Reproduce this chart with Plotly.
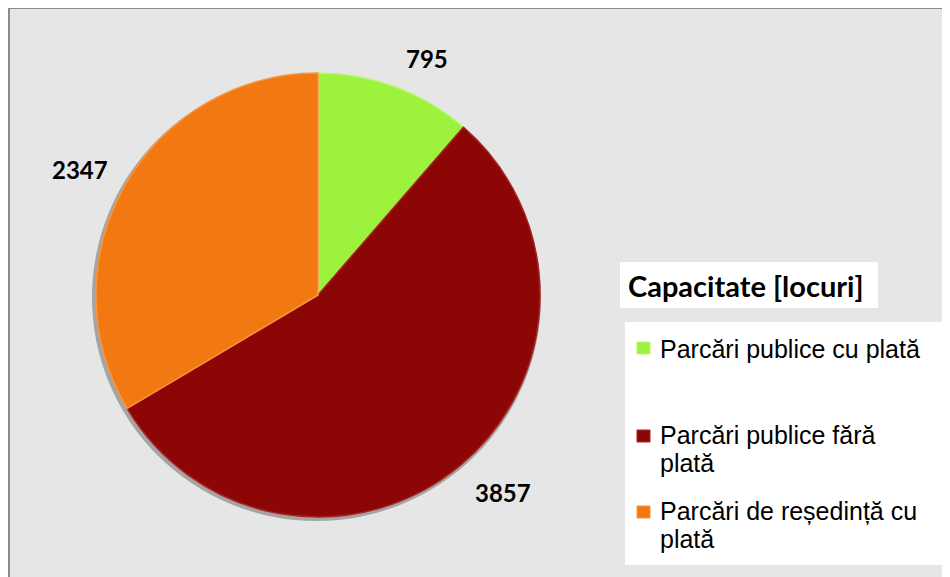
import plotly.graph_objects as go

W, H = 950, 577
OFF = 8  # page offset of the figure in the browser window

labels = ["Parcări publice cu plată", "Parcări publice fără plată", "Parcări de reședință cu plată"]
legend_lines = [["Parcări publice cu plată"], ["Parcări publice fără", "plată"], ["Parcări de reședință cu", "plată"]]
values = [795, 3857, 2347]
colors = ["#9CF23C", "#8C0606", "#F27812"]
edge_colors = ["#B8F76E", "#A82222", "#F7963F"]
legend_title = "Capacitate [locuri]"

def px(x):
    return (x - OFF) / W

def py(y):
    return 1 - (y - OFF) / H

cx, cy, r = 318, 295, 222

fig = go.Figure()
fig.add_trace(go.Pie(
    labels=labels, values=values, sort=False, direction="clockwise", rotation=0,
    marker=dict(colors=colors, line=dict(color=edge_colors, width=1.5)),
    textinfo="none", hoverinfo="label+value", showlegend=False,
    domain=dict(x=[px(cx - r), px(cx + r)], y=[py(cy + r), py(cy - r)]),
))

shapes = [
    dict(type="rect", xref="paper", yref="paper", x0=px(9), x1=1.02, y0=-0.02, y1=1.0,
         fillcolor="#E6E6E6", line=dict(color="#8C8C8C", width=2), layer="below"),
    dict(type="circle", xref="paper", yref="paper",
         x0=px(cx - r - 4), x1=px(cx + r + 1), y0=py(cy + r + 4), y1=py(cy - r + 1),
         fillcolor="rgba(110,110,110,0.55)", line=dict(width=0), layer="below"),
    dict(type="rect", xref="paper", yref="paper", x0=px(620), x1=px(878), y0=py(308), y1=py(262),
         fillcolor="white", line=dict(width=0), layer="below"),
    dict(type="rect", xref="paper", yref="paper", x0=px(625), x1=px(945), y0=py(565), y1=py(322),
         fillcolor="white", line=dict(width=0), layer="below"),
]

annotations = []
label_pos = [(427, 58), (503, 492), (80, 169)]
for v, (x, y) in zip(values, label_pos):
    annotations.append(dict(x=px(x), y=py(y), xref="paper", yref="paper", text=f"<b>{v}</b>",
                            showarrow=False, xanchor="center", yanchor="middle",
                            font=dict(family="Lato", size=24, color="black")))

annotations.append(dict(x=px(626), y=py(286), xref="paper", yref="paper", text=f"<b>{legend_title}</b>",
                        showarrow=False, xanchor="left", yanchor="middle",
                        font=dict(family="Lato", size=29, color="black")))

marker_y = [348, 436, 512]
line_y = [[349], [435, 463], [511, 539]]
for i, lines in enumerate(legend_lines):
    my = marker_y[i]
    shapes.append(dict(type="rect", xref="paper", yref="paper", x0=px(637), x1=px(650),
                       y0=py(my + 6), y1=py(my - 6), fillcolor=colors[i],
                       line=dict(color=edge_colors[i], width=1)))
    for t, ly in zip(lines, line_y[i]):
        annotations.append(dict(x=px(659), y=py(ly), xref="paper", yref="paper", text=t,
                                showarrow=False, xanchor="left", yanchor="middle", borderpad=0,
                                font=dict(family="Liberation Sans", size=25, color="black")))

fig.update_layout(
    width=W, height=H, margin=dict(l=0, r=0, t=0, b=0),
    paper_bgcolor="white", plot_bgcolor="white",
    shapes=shapes, annotations=annotations, showlegend=False,
)
fig.write_html("out.html")
